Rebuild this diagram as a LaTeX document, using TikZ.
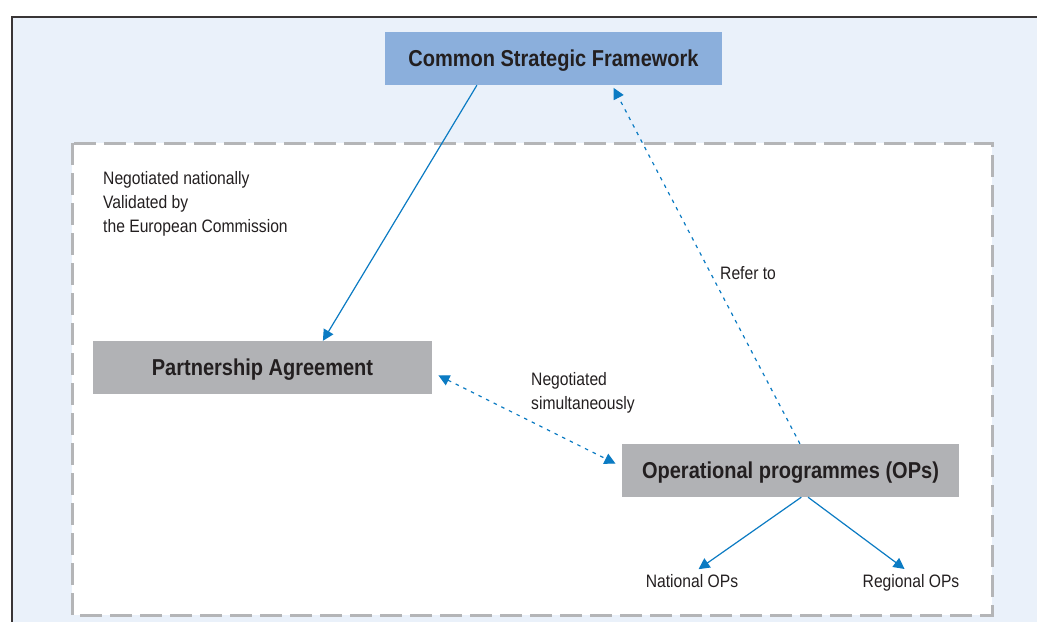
\documentclass[tikz,border=0pt]{standalone}
\usepackage{fontspec}
\setmainfont{Liberation Sans}[FakeStretch=0.87]
\usetikzlibrary{arrows.meta,calc}

\definecolor{panelbg}{HTML}{EAF1FA}
\definecolor{csfblue}{HTML}{8BAFDC}
\definecolor{boxgrey}{HTML}{B1B2B5}
\definecolor{dashgrey}{HTML}{B4B5B7}
\definecolor{linkblue}{HTML}{0B7BC3}
\definecolor{ink}{HTML}{231F20}

\tikzset{
  box/.style ={minimum width=337pt, minimum height=53pt, inner sep=0pt, text=ink, text depth=0pt,
               font=\bfseries\fontsize{23}{27}\selectfont},
  note/.style ={inner sep=0pt, text=ink, align=left, font=\fontsize{18}{24}\selectfont},
  link/.style ={draw=linkblue, line width=1.2pt, -{Triangle[length=11pt,width=11pt]}},
  dotlink/.style ={link, dash pattern=on 3.5pt off 5pt}
}

\begin{document}
\begin{tikzpicture}[x=1pt,y=-1pt]
	\useasboundingbox (0,0) rectangle (1037,622);
	% outer panel
	\fill [panelbg] (12,17) rectangle (1037,622);
	\draw [line width=2pt,color=ink!90] (1037,17) -- (12,17) -- (12,622);
	% national level, dashed frame
	\draw [fill=white,draw=dashgrey,line width=3pt,dash pattern=on 22pt off 8pt] (72,143) rectangle (992,615);

	\node [box,fill=csfblue] (csf) at (553.5,58.5) {Common Strategic Framework};
	\node [box,fill=boxgrey,minimum width=339pt] (pa) at (262.5,367.5) {Partnership Agreement};
	\node [box,fill=boxgrey] (ops) at (790.5,470.5) {Operational programmes (OPs)};

	% base of a multi-line note is its last line
	\node [note,anchor=base west] (nat) at (103,232) {Negotiated nationally\\Validated by\\the European Commission};
	\node [note,anchor=base west] (refer) at (720,279) {Refer to};
	\node [note,anchor=base west] (simul) at (531,409) {Negotiated\\simultaneously};
	\node [note,anchor=base] (natops) at (692,587) {National OPs};
	\node [note,anchor=base] (regops) at (911,587) {Regional OPs};

	\draw [link] ($(csf.south west)!0.273!(csf.south east)$) -- ($(pa.north west)!0.678!(pa.north east)$);
	\draw [dotlink,shorten >=3pt] ($(ops.north west)!0.528!(ops.north east)$) -- ($(csf.south west)!0.674!(csf.south east)$);
	\draw [dotlink,{Triangle[length=11pt,width=11pt]}-{Triangle[length=11pt,width=11pt]},shorten <=7pt,shorten >=7pt]
		($(pa.north east)!0.59!(pa.south east)$) -- ($(ops.north west)!0.43!(ops.south west)$);
	\draw [link,shorten >=8pt] ($(ops.south west)!0.532!(ops.south east)$) -- (natops.north);
	\draw [link,shorten >=8pt] ($(ops.south west)!0.552!(ops.south east)$) -- (regops.north);
\end{tikzpicture}
\end{document}
